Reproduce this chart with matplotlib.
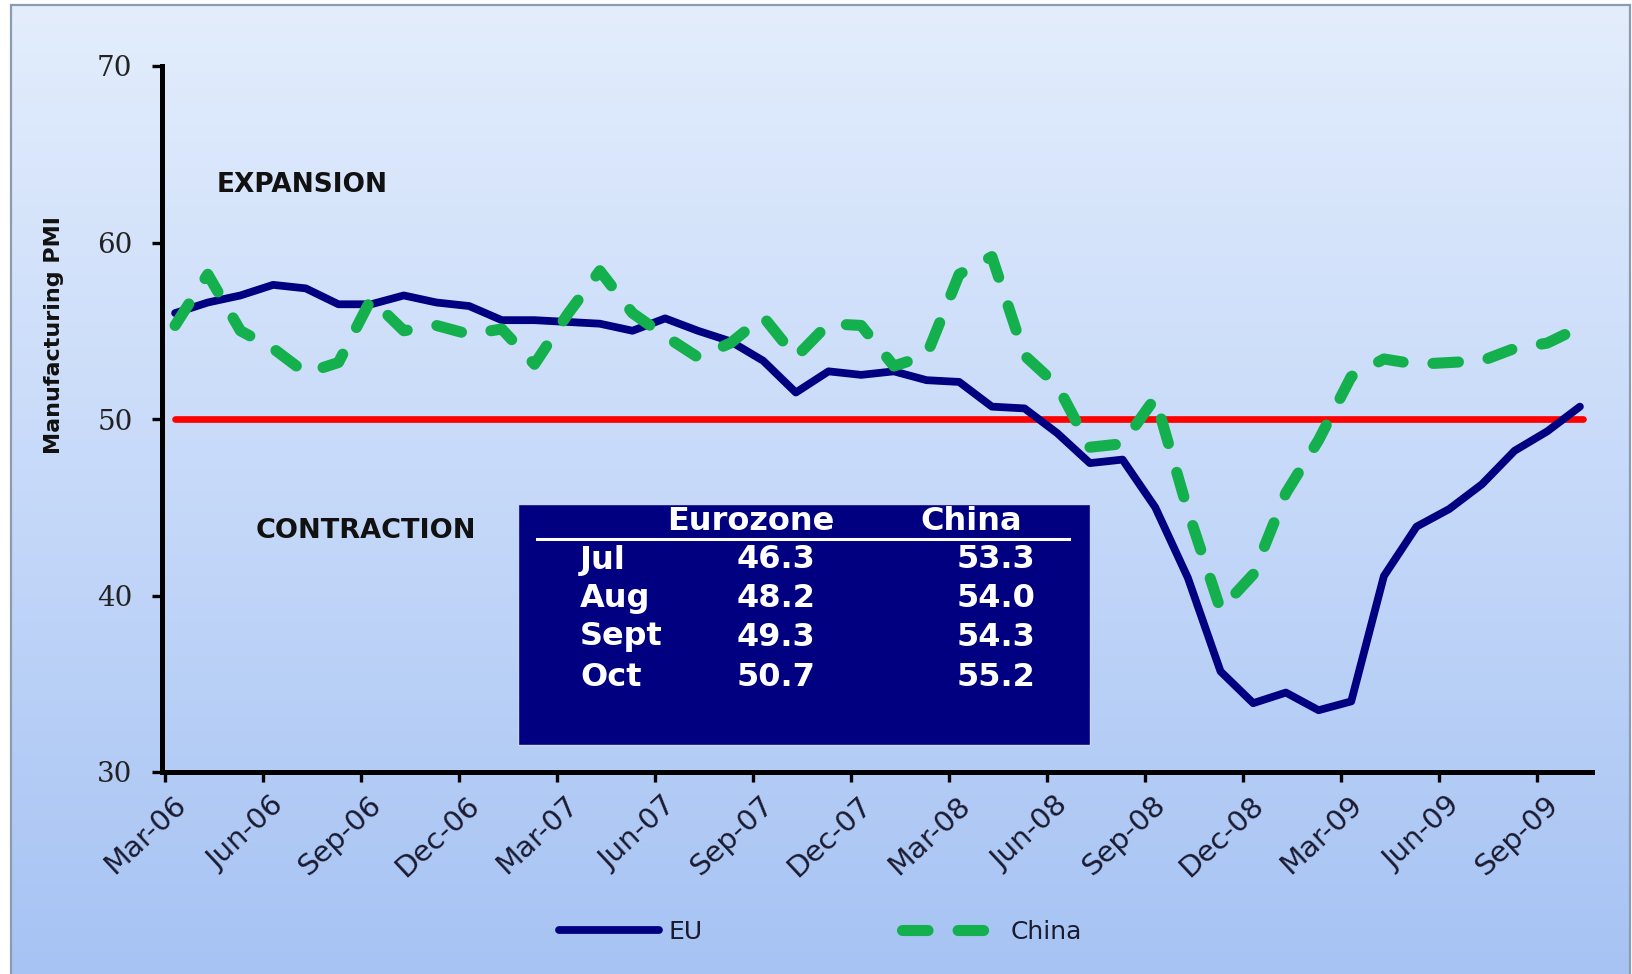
import numpy as np
import matplotlib
matplotlib.use("Agg")
import matplotlib.pyplot as plt
from matplotlib.patches import Rectangle
from matplotlib.colors import LinearSegmentedColormap
from matplotlib.lines import Line2D
import matplotlib.transforms as mtransforms

# ---------------- data ----------------
tick_labels = ["Mar-06", "Jun-06", "Sep-06", "Dec-06", "Mar-07", "Jun-07", "Sep-07",
               "Dec-07", "Mar-08", "Jun-08", "Sep-08", "Dec-08", "Mar-09", "Jun-09", "Sep-09"]

# monthly Mar-06 .. Oct-09
eu = [56.0, 56.6, 57.0, 57.6, 57.4, 56.5, 56.5, 57.0, 56.6, 56.4,
      55.6, 55.6, 55.5, 55.4, 55.0, 55.7, 55.0, 54.4, 53.3, 51.5,
      52.7, 52.5, 52.7, 52.2, 52.1, 50.7, 50.6, 49.2, 47.5, 47.7,
      45.0, 41.0, 35.7, 33.9, 34.5, 33.5, 34.0, 41.1, 43.9, 44.9,
      46.3, 48.2, 49.3, 50.7]

china = [55.3, 58.2, 55.0, 54.0, 52.6, 53.2, 56.8, 55.0, 55.3, 54.8,
         55.1, 53.1, 55.9, 58.4, 56.0, 54.7, 53.5, 54.3, 55.8, 53.5,
         55.4, 55.3, 53.0, 53.6, 58.2, 59.2, 53.6, 51.9, 48.4, 48.6,
         51.2, 44.8, 39.2, 41.2, 45.8, 48.8, 52.4, 53.4, 53.1, 53.2,
         53.3, 54.0, 54.3, 55.2]

threshold = 50
yticks = [30, 40, 50, 60, 70]

table_months = ["Jul", "Aug", "Sept", "Oct"]
table_eu = ["46.3", "48.2", "49.3", "50.7"]
table_china = ["53.3", "54.0", "54.3", "55.2"]

# ---------------- figure ----------------
W, H = 1632, 974
fig = plt.figure(figsize=(W / 100, H / 100), dpi=100)
fig.patch.set_facecolor("white")

def fx(px):
    return px / W

def fy(py):
    return 1 - py / H

# gradient background inside frame
bg = fig.add_axes([fx(11), 0, fx(1630) - fx(11), fy(5)])
cmap = LinearSegmentedColormap.from_list("bg", ["#a6c3f3", "#c6d9f9", "#e3edfc"])
grad = np.linspace(0, 1, 256).reshape(-1, 1)
bg.imshow(grad, aspect="auto", cmap=cmap, origin="lower", extent=[0, 1, 0, 1])
bg.axis("off")
fig.add_artist(Rectangle((fx(11), -0.01), fx(1630) - fx(11), fy(5) + 0.01,
                         transform=fig.transFigure, fill=False,
                         edgecolor="#8c9bb2", lw=1.6))

# main axes
ax = fig.add_axes([fx(161.7), fy(772), fx(1592) - fx(161.7), fy(66) - fy(772)])
ax.patch.set_alpha(0)
x = np.arange(len(eu))
ax.set_xlim(-0.41, 43.37)
ax.set_ylim(30, 70)

ax.hlines(threshold, x[0], x[-1] + 0.1, color="#ff0000", lw=4.8,
          capstyle="round", zorder=2)
ln_eu, = ax.plot(x, eu, color="#000080", lw=5.6, solid_joinstyle="round",
                 solid_capstyle="round", zorder=3, label="EU")
ln_cn, = ax.plot(x, china, color="#14b04e", lw=8, dashes=(2.3, 2.7),
                 dash_capstyle="round", zorder=4, label="China")

for s in ["top", "right"]:
    ax.spines[s].set_visible(False)
for s in ["left", "bottom"]:
    ax.spines[s].set_linewidth(3.6)
    ax.spines[s].set_color("black")

ax.set_yticks(yticks)
ax.set_yticklabels([str(v) for v in yticks])
ax.tick_params(axis="y", direction="out", length=7, width=2.4, pad=14,
               labelcolor="#222222")
for lab in ax.get_yticklabels():
    lab.set_family(["DejaVu Serif"])
    lab.set_fontsize(20)

ax.set_xticks(np.arange(0, len(eu), 3)[:len(tick_labels)] - 0.32)
ax.set_xticklabels(tick_labels, rotation=43, ha="right", va="center",
                   rotation_mode="anchor")
ax.tick_params(axis="x", direction="out", length=7, width=2.4, pad=14,
               labelsize=21, labelcolor="#1a1a30")
off = mtransforms.ScaledTranslation(0.17, 0, fig.dpi_scale_trans)
for lab in ax.get_xticklabels():
    lab.set_transform(lab.get_transform() + off)

# axis title
fig.text(fx(54), fy(335), "Manufacturing PMI", rotation=90, ha="center", va="center",
         fontsize=16, fontweight="bold", color="#111111")

# region labels
fig.text(fx(302), fy(185), "EXPANSION", ha="center", va="center", fontsize=19,
         fontweight="bold", color="#111111")
fig.text(fx(366), fy(531), "CONTRACTION", ha="center", va="center", fontsize=19.5,
         fontweight="bold", color="#111111")

# summary table box
fig.add_artist(Rectangle((fx(518), fy(745)), fx(1090) - fx(518), fy(504) - fy(745),
                         transform=fig.transFigure, facecolor="#000080",
                         edgecolor="#c8d4f0", lw=1.0, zorder=5))
tkw = dict(color="white", fontweight="bold", fontsize=23, va="center", zorder=6)
fig.text(fx(751), fy(521), "Eurozone", ha="center", **tkw)
fig.text(fx(971), fy(521), "China", ha="center", **tkw)
fig.add_artist(Line2D([fx(537), fx(1069)], [fy(539), fy(539)], transform=fig.transFigure,
                      color="white", lw=2.2, zorder=6))
row_y = [560, 598.5, 637, 677.6]
for m, e, c, yy in zip(table_months, table_eu, table_china, row_y):
    fig.text(fx(580), fy(yy), m, ha="left", **tkw)
    fig.text(fx(776), fy(yy), e, ha="center", **tkw)
    fig.text(fx(996), fy(yy), c, ha="center", **tkw)

# legend
fig.legend(handles=[ln_eu, ln_cn], labels=["EU", "China"], loc="center",
           bbox_to_anchor=(0.503, fy(932)), ncol=2, frameon=False,
           prop={"size": 18}, handlelength=4.0, handletextpad=0.35, columnspacing=8.0,
           labelcolor="#1a1a30")

fig.savefig("out.png", dpi=100)
